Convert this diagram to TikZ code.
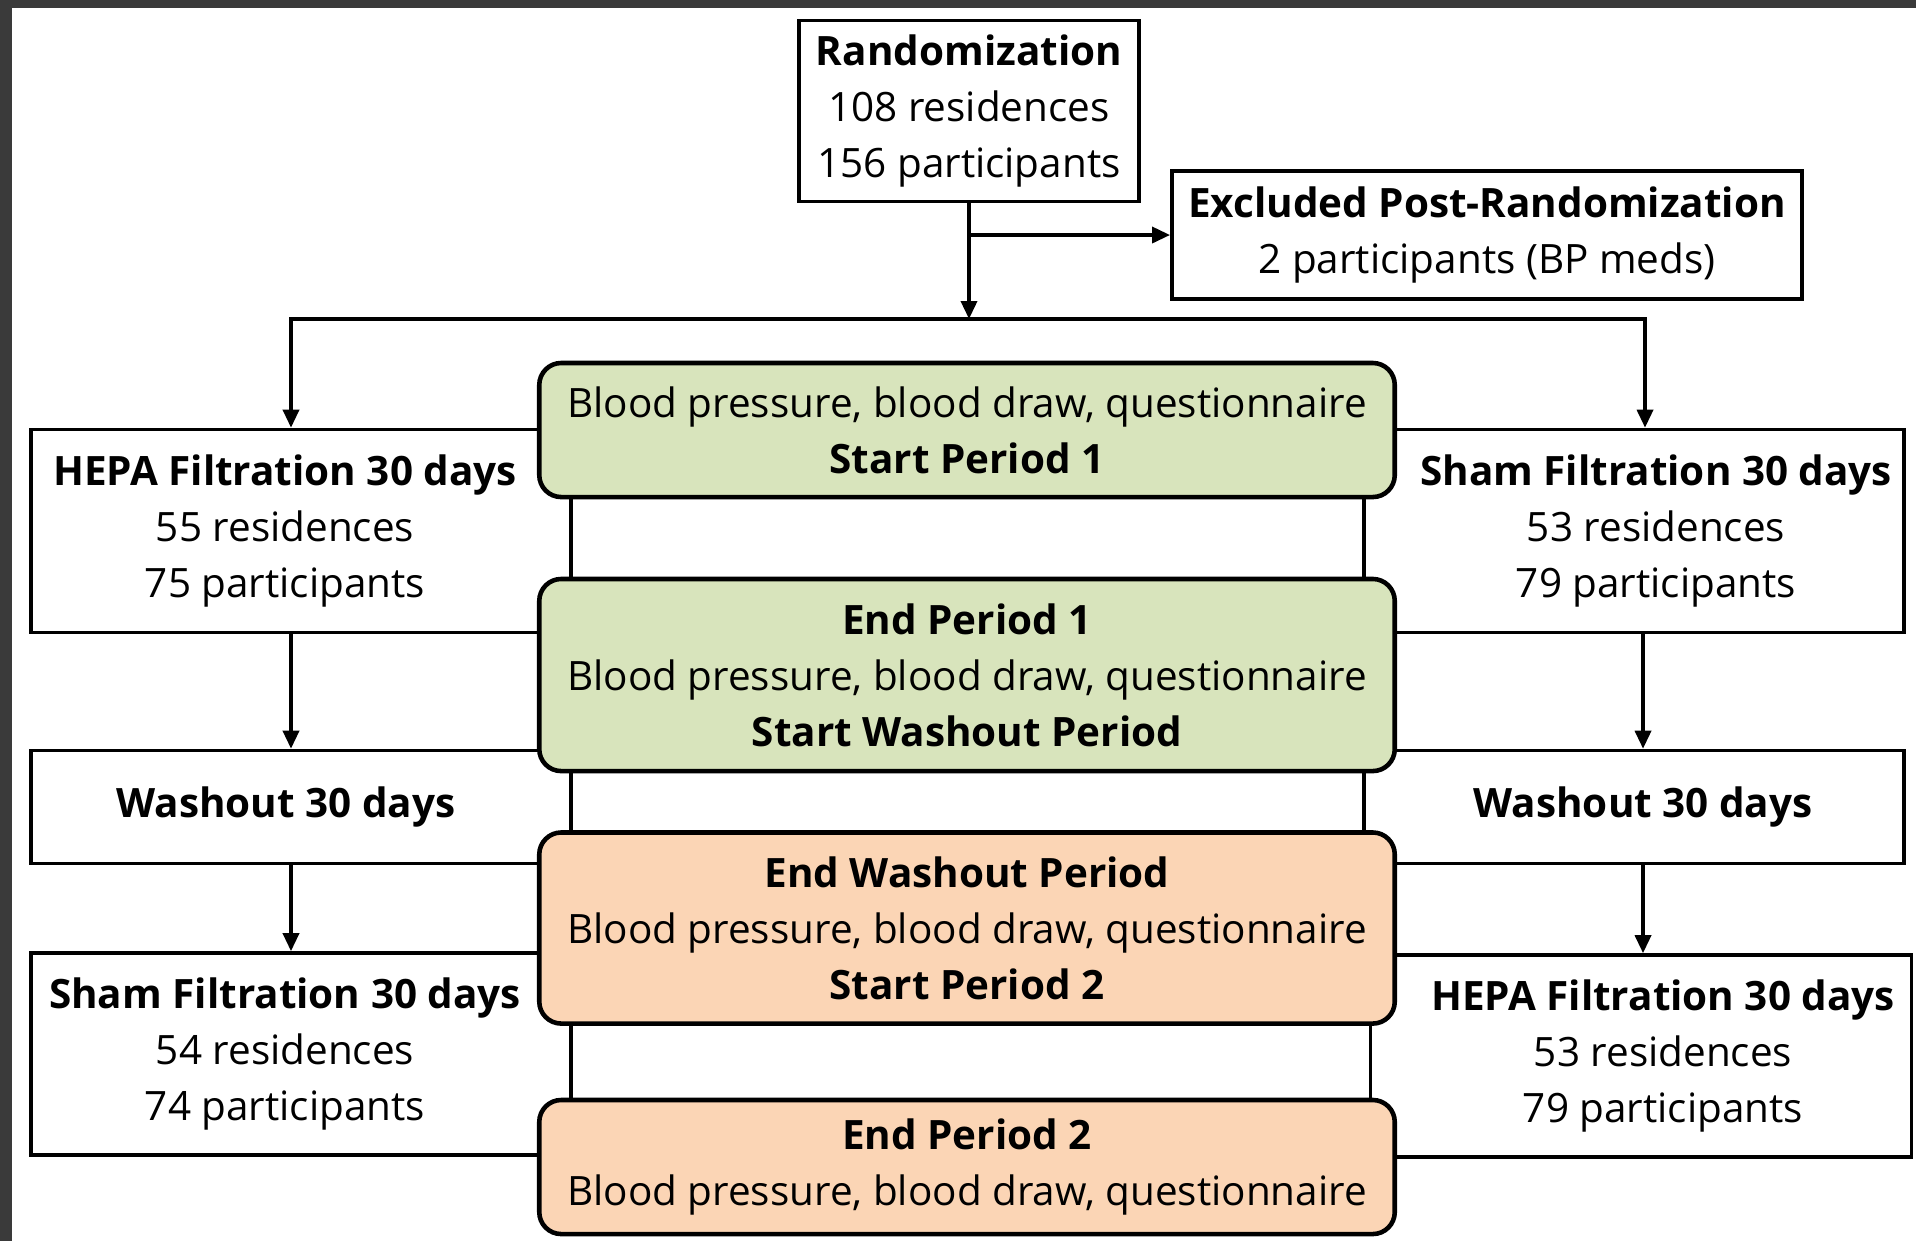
\documentclass[tikz,border=0pt]{standalone}
\usepackage{fontspec}
\setmainfont{Open Sans}
\usetikzlibrary{arrows.meta,positioning}

\definecolor{phasegreen}{RGB}{216,228,188}
\definecolor{phaseorange}{RGB}{251,213,181}
\definecolor{framegray}{RGB}{58,58,58}

\begin{document}
\begin{tikzpicture}[
    x=0.01cm, y=-0.01cm,
    font=\fontsize{11.5}{15.9}\selectfont,
    every node/.style={align=center, inner sep=0pt},
    box/.style={draw, fill=white, line width=1pt},
    arm/.style={box, minimum width=5.4cm},
    phase/.style={draw, line width=1.3pt, rounded corners=2.2mm, minimum width=8.55cm},
    greenphase/.style={phase, fill=phasegreen},
    orangephase/.style={phase, fill=phaseorange},
    >={Triangle[length=1.8mm, width=1.6mm]},
    arr/.style={->, line width=1pt},
]

% --- screenshot frame ---
\fill[framegray] (0,0) rectangle (1916,1241);
\fill[white] (12,8) rectangle (1916,1241);
\useasboundingbox (0,0) rectangle (1916,1241);

% --- Randomization & exclusion ---
\node[box, minimum width=3.4cm, minimum height=1.81cm] (rand) at (969,111) {\textbf{Randomization}\\108 residences\\156 participants};
\node[box, minimum width=6.3cm, minimum height=1.28cm] (excl) at (1487,235) {\textbf{Excluded Post-Randomization}\\2 participants (BP meds)};
\coordinate (split) at (969,319);

% --- Left arm ---
\node[arm, minimum height=2.03cm, label={[xshift=-1.6mm]center:\textbf{HEPA Filtration 30 days}\\55 residences\\75 participants}] (hepaL) at (301,531) {};
\node[arm, minimum height=1.13cm, label={[xshift=-1.5mm]center:\textbf{Washout 30 days}}] (washL) at (301,807) {};
\node[arm, minimum height=2.02cm, label={[xshift=-1.6mm]center:\textbf{Sham Filtration 30 days}\\54 residences\\74 participants}] (shamL) at (301,1054) {};

% --- Right arm ---
\node[arm, minimum height=2.03cm, label={[xshift=2.2mm]center:\textbf{Sham Filtration 30 days}\\53 residences\\79 participants}] (shamR) at (1634,531) {};
\node[arm, minimum height=1.13cm, label={[xshift=0.9mm]center:\textbf{Washout 30 days}}] (washR) at (1634,807) {};
\node[arm, minimum width=5.41cm, minimum height=2.02cm, label={[xshift=2.2mm]center:\textbf{HEPA Filtration 30 days}\\53 residences\\79 participants}] (hepaR) at (1641,1056) {};

% --- Measurement visits ---
\node[greenphase, minimum height=1.34cm] (visitA) at (967,430) {Blood pressure, blood draw, questionnaire\\\textbf{Start Period 1}};
\node[greenphase, minimum height=1.92cm] (visitB) at (967,675) {\textbf{End Period 1}\\Blood pressure, blood draw, questionnaire\\\textbf{Start Washout Period}};
\node[orangephase, minimum height=1.91cm] (visitC) at (967,928) {\textbf{End Washout Period}\\Blood pressure, blood draw, questionnaire\\\textbf{Start Period 2}};
\node[orangephase, minimum height=1.34cm] (visitD) at (967,1167) {\textbf{End Period 2}\\Blood pressure, blood draw, questionnaire};

% --- Arrows ---
\draw[arr] (rand.south) -- (split);
\draw[arr] (rand.south |- excl.west) -- (excl.west);
\draw[arr] (split) -| ([xshift=-1mm]hepaL.north);
\draw[arr] (split) -| ([xshift=1.1mm]shamR.north);
\draw[arr] ([xshift=-1mm]hepaL.south) -- ([xshift=-1mm]washL.north);
\draw[arr] ([xshift=-1mm]washL.south) -- ([xshift=-1mm]shamL.north);
\draw[arr] ([xshift=0.9mm]shamR.south) -- ([xshift=0.9mm]washR.north);
\draw[arr] ([xshift=0.9mm]washR.south) -- ([xshift=0.9mm]washR.south |- hepaR.north);

\end{tikzpicture}
\end{document}
